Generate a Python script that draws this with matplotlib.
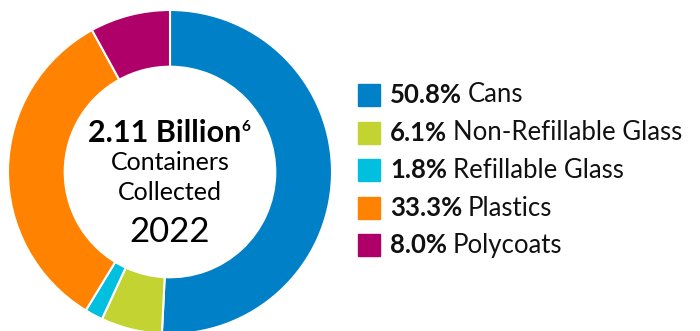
import matplotlib

matplotlib.use("Agg")
import matplotlib.pyplot as plt
from matplotlib.patches import Rectangle

plt.rcParams["font.family"] = ["Lato", "DejaVu Sans"]

labels = ["Cans", "Non-Refillable Glass", "Refillable Glass", "Plastics", "Polycoats"]
shares = [50.8, 6.1, 1.8, 33.3, 8.0]
colors = ["#0080C6", "#C3D331", "#00BFDF", "#FF8200", "#AE0068"]

total_text = "2.11 Billion"
footnote = "6"
center_lines = ["Containers", "Collected"]
year = "2022"

W, H = 700, 331
fig = plt.figure(figsize=(W / 100, H / 100), dpi=100)

# donut
cx, cy, r = 170, 172, 162
ax = fig.add_axes([(cx - r) / W, (H - cy - r) / H, 2 * r / W, 2 * r / H])
ax.pie(shares, colors=colors, startangle=90, counterclock=False,
       wedgeprops=dict(width=0.35, edgecolor="white", linewidth=1.5))
ax.set_xlim(-1, 1)
ax.set_ylim(-1, 1)
ax.set_aspect("auto")
ax.set_axis_off()

# center text
t = fig.text(cx / W - 0.008, 1 - 133 / H, total_text, ha="center", va="center",
             fontsize=22, fontweight="bold", color="black")
fig.canvas.draw()
bb = t.get_window_extent()
fig.text(bb.x1 / W + 0.001, 1 - 127 / H, footnote, ha="left", va="center",
         fontsize=11, fontweight="bold", color="black")
for y, line in zip([163, 192], center_lines):
    fig.text(cx / W, 1 - y / H, line, ha="center", va="center", fontsize=18, color="black")
fig.text(cx / W, 1 - 232 / H, year, ha="center", va="center", fontsize=25, color="black")

# legend
ys = [95, 133, 170, 208, 245]
for y, lab, val, col in zip(ys, labels, shares, colors):
    fig.patches.append(Rectangle((358 / W, 1 - (y + 11) / H), 22 / W, 22 / H,
                                 transform=fig.transFigure, color=col))
    pt = fig.text(390 / W, 1 - y / H, f"{val:.1f}%", ha="left", va="center",
                  fontsize=18.5, fontweight="bold", color="#111111")
    fig.canvas.draw()
    pb = pt.get_window_extent()
    fig.text(pb.x1 / W + 0.008, 1 - y / H, lab, ha="left", va="center",
             fontsize=18.5, color="#111111")

fig.savefig("out.png", dpi=100)
